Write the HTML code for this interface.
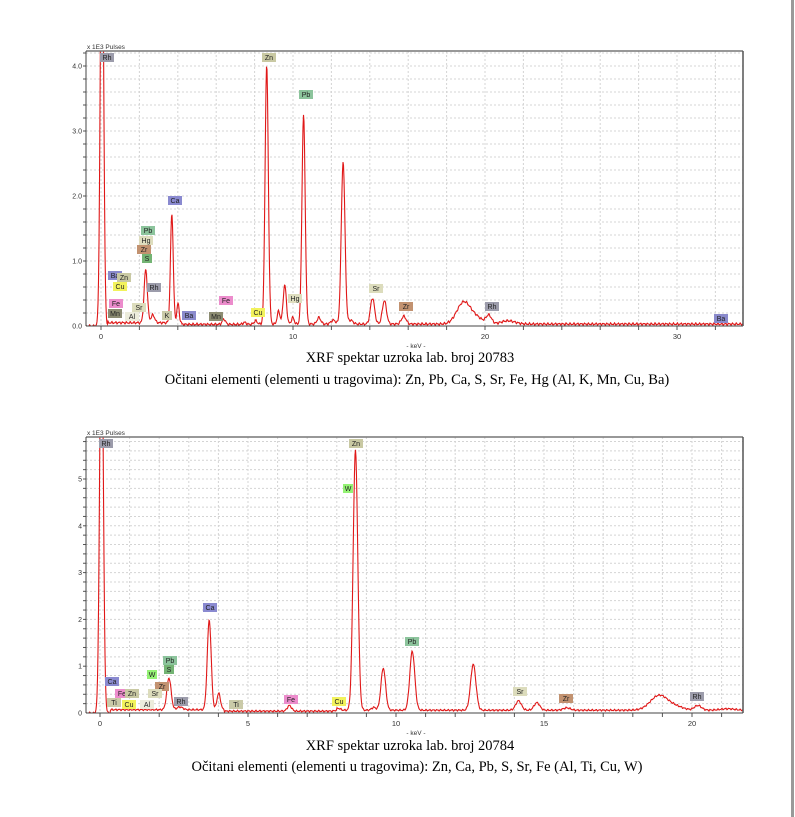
<!DOCTYPE html>
<html><head><meta charset="utf-8"><style>
body{margin:0;background:#fff;width:795px;height:817px;overflow:hidden;position:relative;font-family:"Liberation Sans",sans-serif}
.cap{position:absolute;font-family:"Liberation Serif",serif;font-size:14.5px;color:#000;white-space:nowrap;transform:translateX(-50%)}
#rb{position:absolute;left:791px;top:0;width:3px;height:817px;background:#999}
</style></head><body>
<svg id="s" width="795" height="817" style="position:absolute;left:0;top:0"></svg>
<div class="cap" style="left:410px;top:350px">XRF spektar uzroka lab. broj 20783</div>
<div class="cap" style="left:417px;top:372px">Očitani elementi (elementi u tragovima): Zn, Pb, Ca, S, Sr, Fe, Hg (Al, K, Mn, Cu, Ba)</div>
<div class="cap" style="left:410px;top:738px">XRF spektar uzroka lab. broj 20784</div>
<div class="cap" style="left:417px;top:759px">Očitani elementi (elementi u tragovima): Zn, Ca, Pb, S, Sr, Fe (Al, Ti, Cu, W)</div>
<div id="rb"></div>
<script>
var S=document.getElementById('s'),h='';
var C={Rh:'#9c9cab',Zn:'#c9c9a3',Pb:'#8cc49c',Ca:'#8a8ad0',Hg:'#deddbe',Zr:'#c29270',S:'#74b474',Ba:'#8a8acc',Cu:'#f2f25c',Fe:'#ec8ccc',Mn:'#8c8c72',Sr:'#dcdcbc',Al:'#ececdc',K:'#cacaa8',W:'#94f274',Ti:'#cacaa8'};
function chart(o){
 var L=86,R=743,T=o.T,B=o.B,x0=o.x0,px=o.px,py=o.py;
 h+='<clipPath id="c'+T+'"><rect x="'+L+'" y="'+T+'" width="'+(R-L)+'" height="'+(B-T)+'"/></clipPath>';
 for(var k=o.gx;x0+k*px<R;k+=o.gx){var X=x0+k*px;h+='<line x1="'+X+'" y1="'+T+'" x2="'+X+'" y2="'+B+'" stroke="#d4d4d4" stroke-dasharray="2,2" stroke-width="1"/>';}
 var X=x0;h+='<line x1="'+X+'" y1="'+T+'" x2="'+X+'" y2="'+B+'" stroke="#d4d4d4" stroke-dasharray="2,2"/>';
 for(var v=0.2;B-v*py>T;v+=0.2){var Y=B-v*py;h+='<line x1="'+L+'" y1="'+Y+'" x2="'+R+'" y2="'+Y+'" stroke="#d4d4d4" stroke-dasharray="2,2"/>';
  h+='<line x1="'+(L-3)+'" y1="'+Y+'" x2="'+L+'" y2="'+Y+'" stroke="#555"/>';}
 for(var i=0;i<o.yl.length;i++){var Y=B-(i+1)*py;h+='<text x="'+(L-4)+'" y="'+(Y+2.5)+'" font-size="7" text-anchor="end" fill="#333">'+o.yl[i]+'</text>';}
 h+='<text x="'+(L-4)+'" y="'+(B+2.5)+'" font-size="7" text-anchor="end" fill="#333">'+o.z+'</text>';
 h+='<text x="'+(L+1)+'" y="'+(T-2)+'" font-size="6.5" fill="#333">x 1E3 Pulses</text>';
 for(var k=0;x0+k*px<R;k+=o.gx){var X=x0+k*px;h+='<line x1="'+X+'" y1="'+B+'" x2="'+X+'" y2="'+(B+4)+'" stroke="#555"/>';}
 for(var k=0;x0+k*px<R;k+=o.lx){var X=x0+k*px;h+='<text x="'+X+'" y="'+(B+13)+'" font-size="7.5" text-anchor="middle" fill="#333">'+k+'</text>';}
 h+='<text x="416" y="'+(B+22)+'" font-size="6.5" text-anchor="middle" fill="#333">- keV -</text>';
 var d='';for(var X=L;X<=R;X+=0.5){var e=(X-x0)/px,y=o.base(e);
  for(var j=0;j<o.pk.length;j++){var p=o.pk[j],sg=p[2]*1.2;y+=p[1]*Math.exp(-Math.pow((e-p[0])/sg,2)/2);}
  y+=0.012*Math.sin(X*1.7)+0.008*Math.sin(X*3.1);
  var Y=B-Math.max(y,0)*py;d+=(d?'L':'M')+X+' '+Y.toFixed(1);}
 h+='<path d="'+d+'" fill="none" stroke="#e01818" stroke-width="1.1" clip-path="url(#c'+T+')"/>';
 h+='<line x1="'+L+'" y1="'+T+'" x2="'+R+'" y2="'+T+'" stroke="#777" stroke-width="1.5"/><line x1="'+R+'" y1="'+T+'" x2="'+R+'" y2="'+B+'" stroke="#555" stroke-width="1.5"/>';
 h+='<line x1="'+L+'" y1="'+T+'" x2="'+L+'" y2="'+B+'" stroke="#444"/><line x1="'+L+'" y1="'+B+'" x2="'+R+'" y2="'+B+'" stroke="#444"/>';
 for(var i=0;i<o.lab.length;i++){var a=o.lab[i],w=a[0].length>1?14:10;
  h+='<rect x="'+a[1]+'" y="'+a[2]+'" width="'+w+'" height="9" fill="'+C[a[0]]+'"/><text x="'+(a[1]+w/2)+'" y="'+(a[2]+7)+'" font-size="7" text-anchor="middle" fill="#222">'+a[0]+'</text>';}
}
function b1(e){return e<0.35?0:(e<4.2?0.05:(e<8?0.025:0.03))}
chart({T:51,B:326,x0:101,px:19.2,py:65,gx:2,lx:10,yl:['1.0','2.0','3.0','4.0'],z:'0.0',base:b1,
 pk:[[0.05,7,0.07],[2.33,0.82,0.07],[2.7,0.12,0.08],[3.69,1.68,0.06],[4.01,0.3,0.05],[6.4,0.08,0.07],[7.48,0.03,0.07],[8.05,0.05,0.07],[8.63,3.98,0.07],[9.25,0.2,0.06],[9.57,0.6,0.07],[9.99,0.1,0.06],[10.55,3.22,0.07],[11.35,0.1,0.08],[12.1,0.06,0.1],[12.61,2.5,0.08],[13.0,0.06,0.1],[14.14,0.4,0.09],[14.76,0.36,0.09],[15.77,0.12,0.1],[18.9,0.34,0.3],[19.6,0.08,0.25],[20.2,0.13,0.12],[21.2,0.05,0.3]],
 lab:[['Rh',100,53],['Zn',262,53],['Pb',299,90],['Ca',168,196],['Pb',141,226],['Hg',139,236],['Zr',137,245],['S',142,254],['Ba',108,271],['Zn',117,273],['Cu',113,282],['Rh',147,283],['Fe',109,299],['Sr',132,303],['Mn',108,309],['Al',125,312],['K',162,311],['Ba',182,311],['Mn',209,312],['Fe',219,296],['Cu',251,308],['Hg',288,294],['Sr',369,284],['Zr',399,302],['Rh',485,302],['Ba',714,314]]});
function b2(e){return e<0.35?0:(e<4.2?0.07:(e<8?0.04:0.06))}
chart({T:437,B:713,x0:100,px:29.6,py:46.8,gx:1,lx:5,yl:['1','2','3','4','5'],z:'0',base:b2,
 pk:[[0.05,9,0.05],[2.33,0.68,0.06],[2.7,0.06,0.08],[3.69,1.92,0.055],[4.01,0.35,0.05],[6.4,0.12,0.06],[8.05,0.04,0.06],[8.63,5.55,0.065],[9.25,0.06,0.06],[9.57,0.9,0.065],[10.55,1.26,0.07],[12.61,0.98,0.075],[14.14,0.2,0.08],[14.76,0.16,0.08],[15.77,0.05,0.1],[18.9,0.32,0.25],[19.5,0.06,0.2],[20.2,0.1,0.1],[21.2,0.03,0.2]],
 lab:[['Rh',99,439],['Ca',203,603],['Pb',163,656],['S',164,665],['W',147,670],['Zr',155,682],['Sr',148,689],['Ca',105,677],['Fe',115,689],['Zn',125,689],['Ti',107,698],['Cu',122,700],['Al',140,700],['Rh',174,697],['Ti',229,700],['Fe',284,695],['Cu',332,697],['Zn',349,439],['W',343,484],['Pb',405,637],['Sr',513,687],['Zr',559,694],['Rh',690,692]]});
S.innerHTML=h;
</script>
</body></html>
